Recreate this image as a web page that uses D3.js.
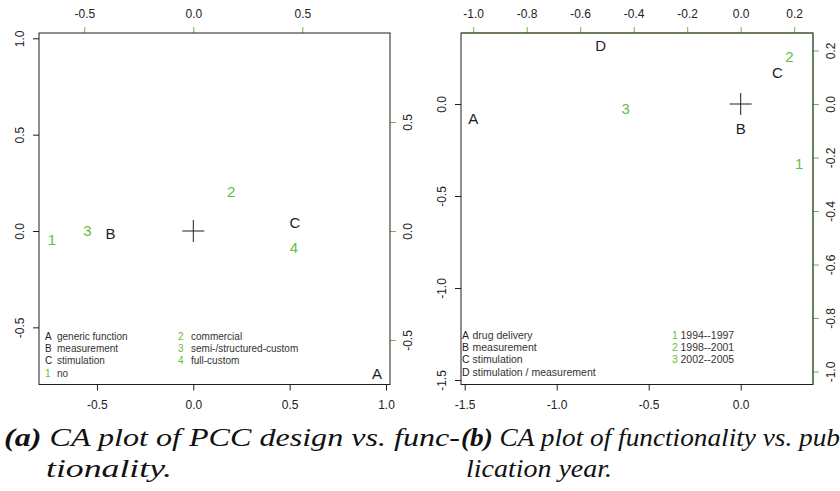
<!DOCTYPE html>
<html>
<head>
<meta charset="utf-8">
<script src="https://cdn.jsdelivr.net/npm/d3@7"></script>
<style>
  body { margin: 0; background: #fff; }
  svg { display: block; }
  .tick text { font-family: "Liberation Sans", Arial, sans-serif; font-size: 12px; fill: #222; }
</style>
</head>
<body>
<script>
// ---- data: panel (a) PCC design vs. functionality ----
const aRowLabels = ['A', 'B', 'C']
const aRowX = [0.953, -0.429, 0.528]
const aRowY = [-0.738, -0.012, 0.043]
const aColLabels = ['1', '2', '3', '4']
const aColX = [-0.648, 0.174, -0.486, 0.462]
const aColY = [-0.041, 0.179, 0.003, -0.077]
const aRowNames = ['generic function', 'measurement', 'stimulation']
const aColNames = ['no', 'commercial', 'semi-/structured-custom', 'full-custom']
const aBottomTicks = [-0.5, 0.0, 0.5, 1.0]
const aLeftTicks = [-0.5, 0.0, 0.5, 1.0]
const aTopTicks = [-0.5, 0.0, 0.5]
const aRightTicks = [-0.5, 0.0, 0.5]

// ---- data: panel (b) functionality vs. publication year ----
const bRowLabels = ['A', 'B', 'C', 'D']
const bRowX = [-1.453, 0.000, 0.199, -0.761]
const bRowY = [-0.078, -0.134, 0.170, 0.319]
const bColLabels = ['1', '2', '3']
const bColX = [0.219, 0.182, -0.430]
const bColY = [-0.222, 0.179, -0.018]
const bRowNames = ['drug delivery', 'measurement', 'stimulation', 'stimulation / measurement']
const bColNames = ['1994--1997', '1998--2001', '2002--2005']
const bBottomTicks = [-1.5, -1.0, -0.5, 0.0]
const bLeftTicks = [-1.5, -1.0, -0.5, 0.0]
const bTopTicks = [-1.0, -0.8, -0.6, -0.4, -0.2, 0.0, 0.2]
const bRightTicks = [-1.0, -0.8, -0.6, -0.4, -0.2, 0.0, 0.2]

const captionA = ['CA plot of PCC design vs. func-', 'tionality.']
const captionB = ['CA plot of functionality vs. pub', 'lication year.']

// colours
const dark = '#1e1e1e'
const green = '#5fbf3f'

const width = 840
const height = 491

const svg = d3.select('body').append('svg')
  .attr('width', width)
  .attr('height', height)

// panel layouts (pixel geometry only)
const panels = [
  {
    box: { x0: 39, x1: 390, y0: 33, y1: 384.5 },
    origin: { x: 193.3, y: 231 },
    k1: 192.7, k2: 218,
    rows: aRowLabels.map((l, i) => ({ l, x: aRowX[i], y: aRowY[i] })),
    cols: aColLabels.map((l, i) => ({ l, x: aColX[i], y: aColY[i] })),
    ticks: { bottom: aBottomTicks, left: aLeftTicks, top: aTopTicks, right: aRightTicks },
    legend: {
      left: [...aRowLabels.map((l, i) => ({ k: l, t: aRowNames[i], c: dark })), { k: aColLabels[0], t: aColNames[0], c: green }],
      right: aColLabels.slice(1).map((l, i) => ({ k: l, t: aColNames[i + 1], c: green })),
      x1: 45, t1: 57, x2: 178, t2: 191, y: 336, dy: 12.4, size: 10
    },
    axisLine: null
  },
  {
    box: { x0: 461, x1: 813, y0: 33, y1: 384.5 },
    origin: { x: 740.7, y: 104 },
    k1: 184, k2: 267.5,
    rows: bRowLabels.map((l, i) => ({ l, x: bRowX[i], y: bRowY[i] })),
    cols: bColLabels.map((l, i) => ({ l, x: bColX[i], y: bColY[i] })),
    ticks: { bottom: bBottomTicks, left: bLeftTicks, top: bTopTicks, right: bRightTicks },
    legend: {
      left: bRowLabels.map((l, i) => ({ k: l, t: bRowNames[i], c: dark })),
      right: bColLabels.map((l, i) => ({ k: l, t: bColNames[i], c: green })),
      x1: 462, t1: 472.5, x2: 672, t2: 680.5, y: 335, dy: 12.3, size: 10.5
    },
    axisLine: '#4d6a3a'
  }
]

const fmt = d => d.toFixed(1)

panels.forEach(p => {
  const { box, origin } = p
  // primary (rows) and secondary (columns) scales, equal aspect
  const x1 = d3.scaleLinear().domain([0, 1]).range([origin.x, origin.x + p.k1])
  const y1 = d3.scaleLinear().domain([0, 1]).range([origin.y, origin.y - p.k1])
  const x2 = d3.scaleLinear().domain([0, 1]).range([origin.x, origin.x + p.k2])
  const y2 = d3.scaleLinear().domain([0, 1]).range([origin.y, origin.y - p.k2])

  const g = svg.append('g')

  // bottom axis
  const bx = g.append('g')
    .attr('transform', `translate(0, ${box.y1})`)
    .call(d3.axisBottom(x1).tickValues(p.ticks.bottom).tickFormat(fmt).tickSize(6).tickPadding(10))
  // left axis
  const lx = g.append('g')
    .attr('transform', `translate(${box.x0}, 0)`)
    .call(d3.axisLeft(y1).tickValues(p.ticks.left).tickFormat(fmt).tickSize(6))
  lx.selectAll('text')
    .attr('x', null).attr('dy', '0.35em')
    .attr('text-anchor', 'middle')
    .attr('transform', 'translate(-19, 0) rotate(-90)')
  // top axis (green)
  const tx = g.append('g')
    .attr('transform', `translate(0, ${box.y0})`)
    .call(d3.axisTop(x2).tickValues(p.ticks.top).tickFormat(fmt).tickSize(6).tickPadding(9))
  // right axis (green)
  const rx = g.append('g')
    .attr('transform', `translate(${box.x1}, 0)`)
    .call(d3.axisRight(y2).tickValues(p.ticks.right).tickFormat(fmt).tickSize(6))
  rx.selectAll('text')
    .attr('x', null).attr('dy', '0.35em')
    .attr('text-anchor', 'middle')
    .attr('transform', 'translate(18, 0) rotate(-90)')

  ;[bx, lx, tx, rx].forEach(a => a.select('.domain').remove())
  ;[bx, lx].forEach(a => a.selectAll('line').attr('stroke', dark))
  ;[tx, rx].forEach(a => a.selectAll('line').attr('stroke', green))

  // box
  g.append('rect')
    .attr('x', box.x0).attr('y', box.y0)
    .attr('width', box.x1 - box.x0).attr('height', box.y1 - box.y0)
    .attr('fill', 'none').attr('stroke', dark).attr('stroke-width', 1)

  if (p.axisLine) {
    g.append('line')
      .attr('x1', box.x0).attr('x2', box.x1).attr('y1', box.y0).attr('y2', box.y0)
      .attr('stroke', p.axisLine)
    g.append('line')
      .attr('x1', box.x1).attr('x2', box.x1).attr('y1', box.y0).attr('y2', box.y1)
      .attr('stroke', p.axisLine)
  }

  // origin cross
  const cx = x1(0), cy = y1(0)
  g.append('path')
    .attr('d', `M${cx - 11},${cy}H${cx + 11}M${cx},${cy - 11}V${cy + 11}`)
    .attr('stroke', dark).attr('stroke-width', 1)

  // row points (letters) and column points (numbers)
  const labelFont = '"Liberation Sans", Arial, sans-serif'
  g.selectAll('.row')
    .data(p.rows)
    .enter()
    .append('text')
    .attr('class', 'row')
    .attr('x', d => x1(d.x))
    .attr('y', d => y1(d.y))
    .attr('dy', '0.36em')
    .attr('text-anchor', 'middle')
    .attr('font-family', labelFont).attr('font-size', 15)
    .attr('fill', dark)
    .text(d => d.l)
  g.selectAll('.col')
    .data(p.cols)
    .enter()
    .append('text')
    .attr('class', 'col')
    .attr('x', d => x2(d.x))
    .attr('y', d => y2(d.y))
    .attr('dy', '0.36em')
    .attr('text-anchor', 'middle')
    .attr('font-family', labelFont).attr('font-size', 15)
    .attr('fill', green)
    .text(d => d.l)

  // legend
  const lg = p.legend
  const addCol = (items, kx, tx0) => {
    items.forEach((d, i) => {
      const y = lg.y + i * lg.dy
      g.append('text')
        .attr('x', kx).attr('y', y).attr('dy', '0.35em')
        .attr('font-family', labelFont).attr('font-size', lg.size)
        .attr('fill', d.c).text(d.k)
      g.append('text')
        .attr('x', tx0).attr('y', y).attr('dy', '0.35em')
        .attr('font-family', labelFont).attr('font-size', lg.size)
        .attr('fill', '#333').text(d.t)
    })
  }
  addCol(lg.left, lg.x1, lg.t1)
  addCol(lg.right, lg.x2, lg.t2)
})

// captions
const capFont = '"Liberation Serif", "Times New Roman", serif'
const caption = (x, y, tag, text, len) => {
  const t = svg.append('text')
    .attr('x', x).attr('y', y)
    .attr('font-family', capFont).attr('font-size', 25)
    .attr('font-style', 'italic').attr('fill', '#111')
  if (len) t.attr('textLength', len).attr('lengthAdjust', 'spacingAndGlyphs')
  if (tag) t.append('tspan').attr('font-weight', 'bold').text(tag + ' ')
  t.append('tspan').text(text)
}
caption(4, 446, '(a)', captionA[0], 456)
caption(46, 477, null, captionA[1], 126)
caption(461, 446, '(b)', captionB[0], 379)
caption(466, 477, null, captionB[1], 146)
</script>
</body>
</html>
